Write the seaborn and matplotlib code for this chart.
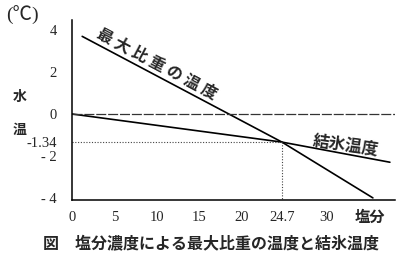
import matplotlib
matplotlib.use("Agg")
import matplotlib.pyplot as plt
import seaborn as sns
import pandas as pd

# data
max_density_salinity = [1.2, 24.7, 35.4]
max_density_temp = [3.7, -1.34, -4.0]
freezing_salinity = [0.0, 24.7, 37.4]
freezing_temp = [0.0, -1.34, -2.3]
cross_salinity = 24.7
cross_temp = -1.34
x_ticks = [0, 5, 10, 15, 20, 24.7, 30]
x_tick_labels = ["0", "5", "10", "15", "20", "24.7", "30"]
y_ticks = [4, 2, 0, -1.34, -2, -4]
y_tick_labels = ["4", "2", "0", "-1.34", "- 2", "- 4"]

sns.set_style("white")
plt.rcParams['font.family'] = ['Noto Sans CJK JP', 'DejaVu Sans']

fig = plt.figure(figsize=(4.0, 2.54), dpi=100)
ax = fig.add_axes([72/400, 1-200/254, (395-72)/400, (200-20)/254])

df1 = pd.DataFrame({"s": max_density_salinity, "t": max_density_temp})
df2 = pd.DataFrame({"s": freezing_salinity, "t": freezing_temp})
sns.lineplot(data=df1, x="s", y="t", ax=ax, color="black", lw=1.2, sort=False)
sns.lineplot(data=df2, x="s", y="t", ax=ax, color="black", lw=1.2, sort=False)

# reference lines
ax.axhline(0, color="#333333", lw=0.9, ls=(0, (8, 1.5)))
ax.plot([0, cross_salinity], [cross_temp, cross_temp], color="#444444", lw=0.8, ls=(0, (1, 1.5)))
ax.plot([cross_salinity, cross_salinity], [cross_temp, -4.1], color="#444444", lw=0.8, ls=(0, (1, 1.5)))

ax.set_xlim(0, 38.0)
ax.set_ylim(-4.1, 4.48)
ax.set_xlabel("")
ax.set_ylabel("")

for s in ["top", "right"]:
    ax.spines[s].set_visible(False)
for s in ["left", "bottom"]:
    ax.spines[s].set_color("black")
    ax.spines[s].set_linewidth(1.1)

ax.set_xticks(x_ticks)
ax.set_xticklabels(x_tick_labels, family="Liberation Serif", fontsize=10.5)
ax.set_yticks(y_ticks)
ax.set_yticklabels(y_tick_labels, family="Liberation Serif", fontsize=10.5)
ax.tick_params(axis="x", length=0, pad=8)
ax.tick_params(axis="y", direction="in", length=3, width=1, pad=11, color="black")

# annotations
fig.text(157/400, 1-64/254, "最 大 比 重 の 温 度", rotation=-28,
         ha="center", va="center", fontsize=11.5, fontweight="bold")
fig.text(346/400, 1-146/254, "結氷温度", rotation=-8, ha="center", va="center",
         fontsize=12, fontweight="bold")
fig.text(22/400, 1-15/254, "(℃)", ha="center", va="center", fontsize=14,
         family=["Liberation Serif", "Noto Sans CJK JP"])
fig.text(20/400, 1-97/254, "水", ha="center", va="center", fontsize=10, fontweight="bold")
fig.text(20/400, 1-130/254, "温", ha="center", va="center", fontsize=10, fontweight="bold")
fig.text(370/400, 1-217/254, "塩分", ha="center", va="center", fontsize=11, fontweight="bold")
fig.text(211/400, 1-243/254, "図　塩分濃度による最大比重の温度と結氷温度", ha="center", va="center",
         fontsize=11.5, fontweight="bold")

fig.savefig("out.png", dpi=100)
